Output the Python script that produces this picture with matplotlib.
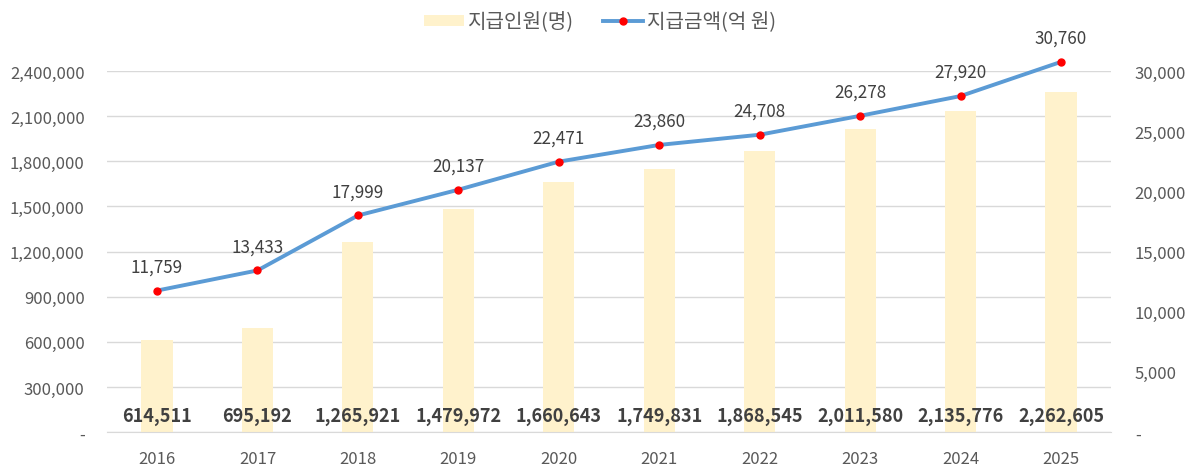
import matplotlib.pyplot as plt
import matplotlib.ticker as mticker
from matplotlib.lines import Line2D
from matplotlib.patches import Patch

plt.rcParams['font.family'] = ['Noto Sans CJK KR', 'DejaVu Sans']

# --- Data ---
years = ['2016', '2017', '2018', '2019', '2020', '2021', '2022', '2023', '2024', '2025']
recipients = [614511, 695192, 1265921, 1479972, 1660643, 1749831, 1868545, 2011580, 2135776, 2262605]
amount = [11759, 13433, 17999, 20137, 22471, 23860, 24708, 26278, 27920, 30760]

bar_color = '#FFF2CC'
line_color = '#5B9BD5'
text_color = '#595959'

fig = plt.figure(figsize=(12, 4.77), dpi=100)
ax = fig.add_axes([0.089, 0.092, 0.837, 0.757])
ax2 = ax.twinx()

x = list(range(len(years)))
ax.bar(x, recipients, width=0.31, color=bar_color, zorder=2)
ax.set_xlim(-0.5, len(years) - 0.5)
ax.set_ylim(0, 2400000)
ax.yaxis.set_major_locator(mticker.MultipleLocator(300000))
ax.yaxis.set_major_formatter(mticker.FuncFormatter(lambda v, p: '-' if v == 0 else f'{int(v):,}'))
ax.grid(axis='y', color='#D9D9D9', linewidth=1, zorder=0)
ax.set_axisbelow(True)

for xi, v in zip(x, recipients):
    ax.text(xi, 110000, f'{v:,}', ha='center', va='center', fontsize=13,
            fontweight='bold', color='#404040', zorder=5)

ax2.plot(x, amount, color=line_color, linewidth=2.8, marker='o', markersize=5,
         markerfacecolor='#FF0000', markeredgecolor='#FF0000', zorder=4, clip_on=False)
ax2.set_ylim(0, 30000)
ax2.yaxis.set_major_locator(mticker.MultipleLocator(5000))
ax2.yaxis.set_major_formatter(mticker.FuncFormatter(lambda v, p: '-' if v == 0 else f'{int(v):,}'))

for xi, v in zip(x, amount):
    ax2.text(xi, v + 2000, f'{v:,}', ha='center', va='center', fontsize=12.3,
             color='#404040', clip_on=False)

ax.set_xticks(x)
ax.set_xticklabels(years)
for a in (ax, ax2):
    for s in a.spines.values():
        s.set_visible(False)
    a.tick_params(length=0, colors=text_color, labelsize=12)
ax.tick_params(axis='y', pad=16)
ax2.tick_params(axis='y', pad=17)
ax.tick_params(axis='x', pad=13)
ax.spines['bottom'].set_visible(True)
ax.spines['bottom'].set_color('#D9D9D9')

handles = [Patch(facecolor=bar_color, edgecolor='none', label='지급인원(명)'),
           Line2D([0], [0], color=line_color, linewidth=2.8, marker='o', markersize=5,
                  markerfacecolor='#FF0000', markeredgecolor='#FF0000', label='지급금액(억 원)')]
fig.legend(handles=handles, loc='upper center', bbox_to_anchor=(0.5, 1.012), ncol=2,
           frameon=False, fontsize=14.5, labelcolor=text_color, handlelength=2.0,
           handleheight=0.5, columnspacing=1.4, handletextpad=0.2)

fig.savefig('out.png', dpi=100)
